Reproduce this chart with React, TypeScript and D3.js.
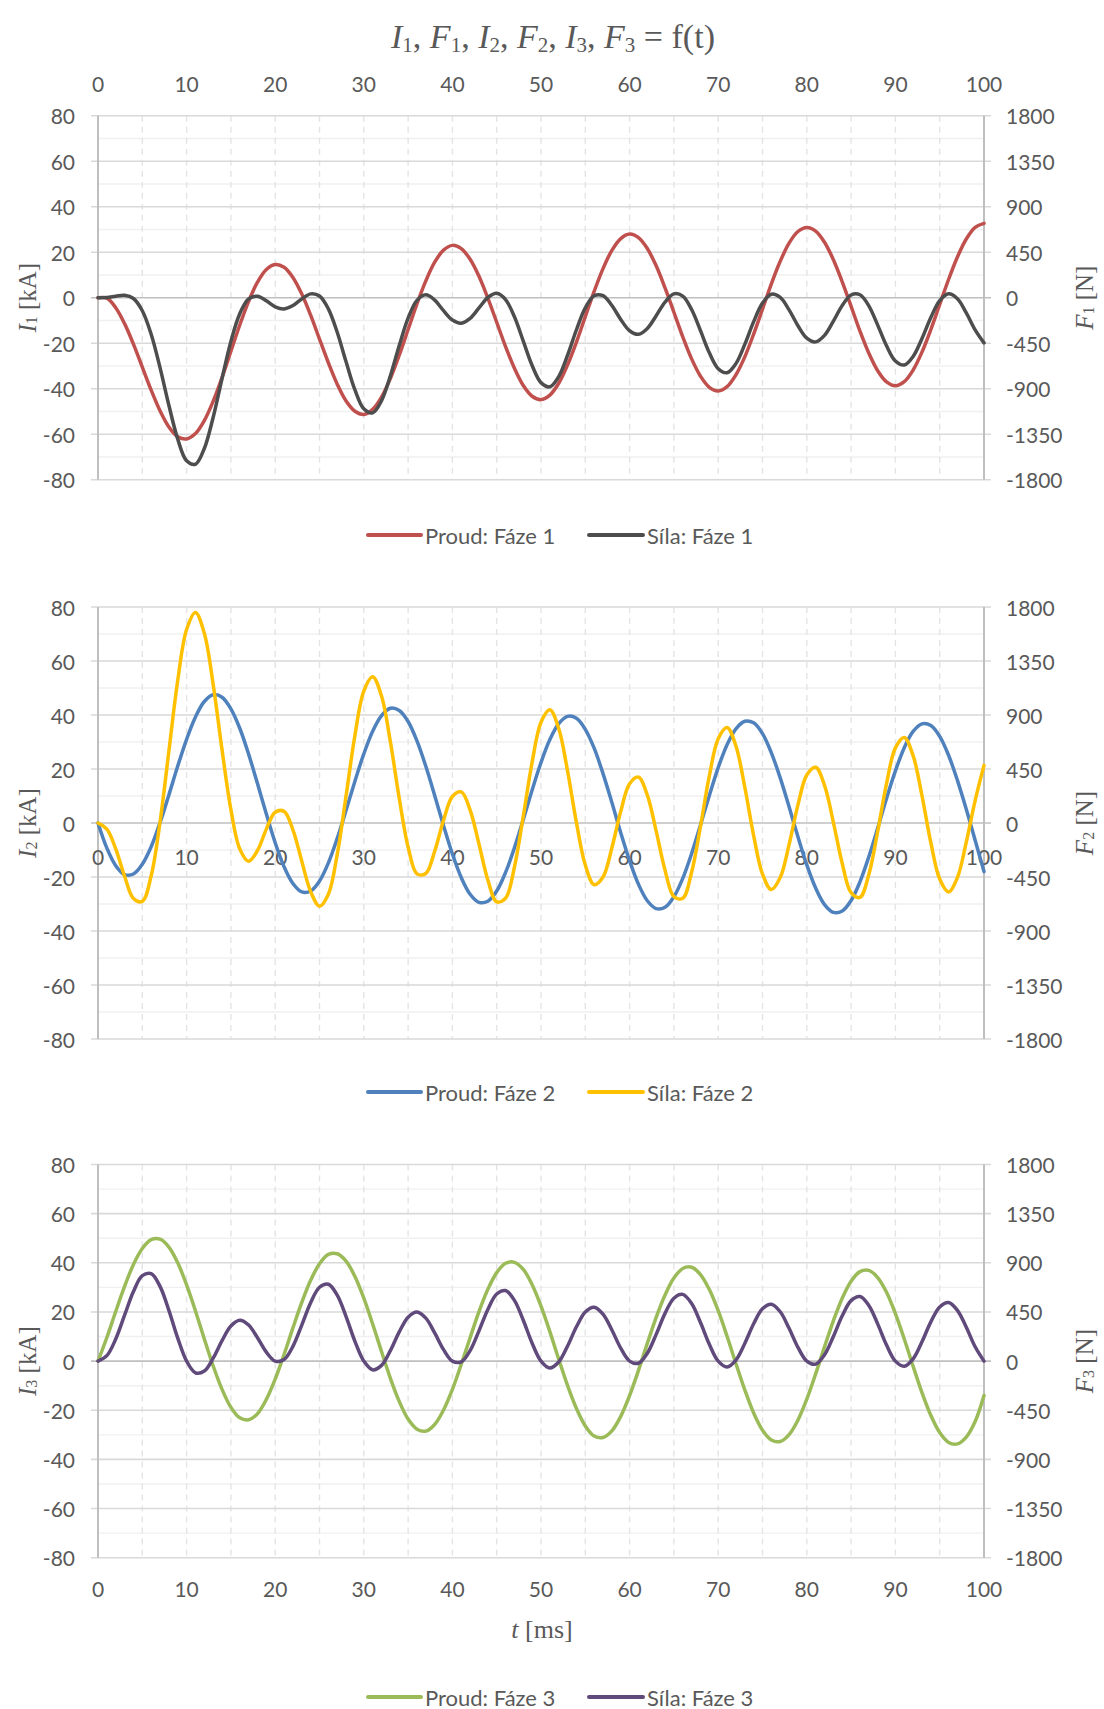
import React from "react";
import * as d3 from "d3";

// sample times [ms]
const timeMs = [
  0, 1, 2, 3, 4, 5, 6, 7, 8, 9, 10, 11, 12, 13, 14, 15, 16, 17, 18, 19, 20,
  21, 22, 23, 24, 25, 26, 27, 28, 29, 30, 31, 32, 33, 34, 35, 36, 37, 38, 39, 40,
  41, 42, 43, 44, 45, 46, 47, 48, 49, 50, 51, 52, 53, 54, 55, 56, 57, 58, 59, 60,
  61, 62, 63, 64, 65, 66, 67, 68, 69, 70, 71, 72, 73, 74, 75, 76, 77, 78, 79, 80,
  81, 82, 83, 84, 85, 86, 87, 88, 89, 90, 91, 92, 93, 94, 95, 96, 97, 98, 99, 100,
];

// currents [kA]
const proud1 = [
  0, -0.2, -4.4, -11.4, -20.4, -30.5, -40.6, -49.7, -56.8, -61.1, -62.1,
  -59.7, -54.0, -45.5, -35.1, -23.5, -12.0, -1.6, 6.8, 12.4, 14.6,
  13.4, 8.9, 1.6, -7.7, -18.2, -28.6, -38.0, -45.4, -49.9, -51.3,
  -49.1, -43.7, -35.5, -25.3, -14.0, -2.7, 7.4, 15.6, 20.9, 23.0,
  21.6, 16.9, 9.4, -0.2, -10.8, -21.5, -31.0, -38.6, -43.3, -44.8,
  -42.8, -37.6, -29.5, -19.5, -8.3, 2.8, 12.8, 20.8, 26.0, 28.0,
  26.4, 21.6, 14.0, 4.3, -6.4, -17.2, -26.9, -34.5, -39.4, -41.0,
  -39.1, -33.9, -26.0, -16.0, -5.0, 6.1, 16.0, 24.0, 29.1, 30.9,
  29.3, 24.4, 16.7, 7.0, -3.8, -14.7, -24.4, -32.1, -37.0, -38.7,
  -36.9, -31.8, -23.9, -14.0, -3.0, 8.0, 17.9, 25.8, 30.9, 32.7,
];
const proud2 = [
  0, -9.3, -15.8, -19.1, -18.9, -15.3, -8.8, 0.1, 10.4, 21.1, 31.0,
  39.3, 45.0, 47.5, 46.6, 42.3, 35.1, 25.5, 14.6, 3.3, -7.3,
  -16.2, -22.4, -25.5, -25.2, -21.5, -14.8, -5.7, 4.7, 15.5, 25.6,
  34.0, 39.8, 42.5, 41.7, 37.6, 30.4, 21.0, 10.2, -1.0, -11.5,
  -20.2, -26.4, -29.4, -29.0, -25.2, -18.3, -9.2, 1.3, 12.2, 22.4,
  30.9, 36.8, 39.5, 38.8, 34.7, 27.7, 18.3, 7.6, -3.6, -14.0,
  -22.7, -28.8, -31.7, -31.2, -27.3, -20.5, -11.3, -0.7, 10.2, 20.5,
  29.0, 34.9, 37.7, 37.1, 33.1, 26.0, 16.7, 6.0, -5.1, -15.5,
  -24.1, -30.2, -33.1, -32.6, -28.7, -21.8, -12.5, -1.9, 9.1, 19.3,
  27.9, 33.9, 36.7, 36.1, 32.1, 25.1, 15.8, 5.1, -6.4, -18.0,
];
const proud3 = [
  0, 9.6, 20.2, 30.4, 39.3, 45.8, 49.4, 49.6, 46.4, 40.0, 31.0,
  20.4, 9.0, -2.0, -11.5, -18.8, -23.1, -23.9, -21.4, -15.6, -7.3,
  2.7, 13.5, 23.9, 32.9, 39.6, 43.4, 43.7, 40.7, 34.4, 25.6,
  15.1, 3.9, -7.0, -16.4, -23.6, -27.7, -28.5, -25.8, -19.9, -11.5,
  -1.3, 9.5, 20.1, 29.2, 36.0, 39.8, 40.2, 37.3, 31.1, 22.4,
  12.0, 0.8, -10.0, -19.3, -26.4, -30.5, -31.1, -28.4, -22.5, -14.0,
  -3.8, 7.2, 17.8, 26.9, 33.8, 37.7, 38.2, 35.2, 29.1, 20.5,
  10.1, -1.0, -11.7, -21.1, -28.1, -32.1, -32.7, -29.9, -24.0, -15.5,
  -5.2, 5.8, 16.4, 25.6, 32.5, 36.4, 36.9, 34.0, 28.0, 19.3,
  9.0, -2.1, -12.8, -22.1, -29.1, -33.1, -33.7, -30.9, -24.6, -14.0,
];

// forces [N]
const sila1 = [
  0, 1, 14, 24, -8, -129, -361, -691, -1064, -1399, -1613,
  -1647, -1491, -1182, -799, -432, -158, -12, 15, -31, -90,
  -111, -78, -12, 38, 17, -110, -342, -634, -912, -1099,
  -1139, -1019, -773, -473, -202, -26, 28, -24, -128, -221,
  -252, -204, -101, 2, 43, -19, -189, -429, -671, -840,
  -881, -780, -569, -317, -100, 19, 20, -77, -215, -327,
  -362, -304, -178, -43, 38, 16, -117, -326, -545, -702,
  -742, -652, -462, -237, -53, 34, 3, -120, -277, -400,
  -437, -372, -232, -77, 27, 29, -81, -271, -476, -626,
  -666, -581, -403, -195, -29, 38, -11, -150, -318, -447,
];
const sila2 = [
  0, -51, -216, -444, -629, -653, -440, 6, 599, 1188, 1613,
  1755, 1581, 1155, 611, 112, -216, -318, -229, -51, 90,
  97, -57, -318, -572, -693, -593, -262, 226, 731, 1099,
  1219, 1058, 677, 206, -200, -424, -421, -235, 23, 221,
  259, 108, -176, -475, -657, -627, -367, 56, 507, 840,
  944, 788, 432, 3, -350, -514, -450, -207, 97, 327,
  382, 232, -67, -394, -614, -627, -410, -28, 392, 702,
  796, 642, 300, -105, -426, -555, -455, -180, 151, 400,
  464, 314, 6, -338, -581, -620, -429, -71, 329, 626,
  713, 561, 227, -164, -467, -575, -454, -160, 187, 480,
];
const sila3 = [
  0, 50, 202, 420, 637, 782, 801, 684, 465, 211, 0,
  -107, -91, 27, 187, 321, 374, 330, 214, 82, 0,
  14, 135, 330, 534, 676, 704, 604, 408, 181, 0,
  -80, -39, 96, 267, 402, 449, 393, 258, 105, 0,
  -7, 96, 277, 473, 614, 646, 556, 374, 164, 0,
  -63, -8, 138, 314, 450, 494, 430, 285, 118, 0,
  -20, 72, 245, 437, 576, 611, 527, 353, 154, 0,
  -53, 10, 162, 342, 479, 521, 452, 300, 126, 0,
  -28, 58, 226, 415, 554, 591, 510, 341, 147, 0,
  -47, 21, 177, 359, 496, 537, 465, 310, 131, 0,
];

const xTicks = [0, 10, 20, 30, 40, 50, 60, 70, 80, 90, 100];
const xMinor = [5, 10, 15, 20, 25, 30, 35, 40, 45, 50, 55, 60, 65, 70, 75, 80, 85, 90, 95];
const leftTicks = [-80, -60, -40, -20, 0, 20, 40, 60, 80];
const leftMinor = [-70, -50, -30, -10, 10, 30, 50, 70];
const rightTicks = [-1800, -1350, -900, -450, 0, 450, 900, 1350, 1800];

const phases = ["1", "2", "3"];
const proudColors = ["#C0504D", "#4F81BD", "#9BBB59"];
const silaColors = ["#4D4D4D", "#FFC000", "#604A7B"];

const panels = [
  { top: 115.7, bottom: 479.7, xLabels: "top", legendY: 535, proud: proud1, sila: sila1 },
  { top: 607, bottom: 1039, xLabels: "zero", legendY: 1092, proud: proud2, sila: sila2 },
  { top: 1164.5, bottom: 1557.7, xLabels: "bottom", legendY: 1697, proud: proud3, sila: sila3 },
];

const X0 = 98;
const X1 = 984;
const tickFont = "Lato, 'Open Sans', sans-serif";
const serifFont = "'Liberation Serif', 'DejaVu Serif', serif";
const textColor = "#595959";

const x = d3.scaleLinear().domain([0, 100]).range([X0, X1]);

const Panel = ({ p, i }) => {
  const yL = d3.scaleLinear().domain([-80, 80]).range([p.bottom, p.top]);
  const yR = d3.scaleLinear().domain([-1800, 1800]).range([p.bottom, p.top]);
  const curve = d3.curveCatmullRom.alpha(0.5);
  const lineI = d3
    .line()
    .x((d) => x(d[0]))
    .y((d) => yL(d[1]))
    .curve(curve);
  const lineF = d3
    .line()
    .x((d) => x(d[0]))
    .y((d) => yR(d[1]))
    .curve(curve);
  const proudPts = timeMs.map((t, k) => [t, p.proud[k]]);
  const silaPts = timeMs.map((t, k) => [t, p.sila[k]]);

  let labelY = p.bottom + 31;
  if (p.xLabels === "top") labelY = p.top - 32;
  if (p.xLabels === "zero") labelY = yL(0) + 33;

  const midY = (p.top + p.bottom) / 2;

  return (
    <g>
      {/* minor horizontal grid */}
      {leftMinor.map((v) => (
        <line key={"hm" + v} x1={X0} x2={X1} y1={yL(v)} y2={yL(v)} stroke="#f0f0f0" strokeWidth={1.4} />
      ))}
      {/* vertical dashed grid */}
      {xMinor.map((v) => (
        <line
          key={"vm" + v}
          x1={x(v)}
          x2={x(v)}
          y1={p.top}
          y2={p.bottom}
          stroke="#e4e4e4"
          strokeWidth={1.4}
          strokeDasharray="6 5"
        />
      ))}
      {/* major horizontal grid + ticks */}
      {leftTicks.map((v) => (
        <line
          key={"hM" + v}
          x1={X0 - 7}
          x2={X1 + 7}
          y1={yL(v)}
          y2={yL(v)}
          stroke={v === 0 ? "#bfbfbf" : "#d9d9d9"}
          strokeWidth={1.6}
        />
      ))}
      <line x1={X0} x2={X0} y1={p.top} y2={p.bottom} stroke="#bfbfbf" strokeWidth={2} />
      <line x1={X1} x2={X1} y1={p.top} y2={p.bottom} stroke="#bfbfbf" strokeWidth={2} />

      {/* tick labels */}
      <g fontFamily={tickFont} fontSize={21} fill={textColor}>
        {leftTicks.map((v) => (
          <text key={"lt" + v} x={75} y={yL(v)} textAnchor="end" dominantBaseline="central">
            {v}
          </text>
        ))}
        {rightTicks.map((v) => (
          <text key={"rt" + v} x={1006} y={yR(v)} textAnchor="start" dominantBaseline="central">
            {v}
          </text>
        ))}
        {xTicks.map((v) => (
          <text key={"xt" + v} x={x(v)} y={labelY} textAnchor="middle" dominantBaseline="central">
            {v}
          </text>
        ))}
      </g>

      {/* axis titles */}
      <text
        transform={`translate(27,${midY}) rotate(-90)`}
        textAnchor="middle"
        dominantBaseline="central"
        fontFamily={serifFont}
        fontSize={25}
        fill={textColor}
      >
        <tspan fontStyle="italic">I</tspan>
        <tspan fontSize={16} dy={4}>
          {phases[i]}
        </tspan>
        <tspan dy={-4}> [kA]</tspan>
      </text>
      <text
        transform={`translate(1084,${midY}) rotate(-90)`}
        textAnchor="middle"
        dominantBaseline="central"
        fontFamily={serifFont}
        fontSize={25}
        fill={textColor}
      >
        <tspan fontStyle="italic">F</tspan>
        <tspan fontSize={16} dy={4}>
          {phases[i]}
        </tspan>
        <tspan dy={-4}> [N]</tspan>
      </text>

      {/* series */}
      <path d={lineI(proudPts)} fill="none" stroke={proudColors[i]} strokeWidth={3.5} strokeLinecap="round" />
      <path d={lineF(silaPts)} fill="none" stroke={silaColors[i]} strokeWidth={3.5} strokeLinecap="round" />

      {/* legend */}
      <g fontFamily={tickFont} fontSize={22} fill={textColor}>
        <line x1={368} x2={421} y1={p.legendY} y2={p.legendY} stroke={proudColors[i]} strokeWidth={4} strokeLinecap="round" />
        <text x={425} y={p.legendY} dominantBaseline="central">
          {"Proud: Fáze " + phases[i]}
        </text>
        <line x1={589} x2={643} y1={p.legendY} y2={p.legendY} stroke={silaColors[i]} strokeWidth={4} strokeLinecap="round" />
        <text x={647} y={p.legendY} dominantBaseline="central">
          {"Síla: Fáze " + phases[i]}
        </text>
      </g>
    </g>
  );
};

const titleParts = [
  ["I", "1"],
  ["F", "1"],
  ["I", "2"],
  ["F", "2"],
  ["I", "3"],
  ["F", "3"],
];

export default function App() {
  return (
    <svg
      width={1104}
      height={1709}
      style={{ position: "absolute", left: 0, top: 0, background: "#fff" }}
    >
      <rect width={1104} height={1709} fill="#fff" />
      <text x={553} y={48} textAnchor="middle" fontFamily={serifFont} fontSize={34} fill={textColor}>
        {titleParts.map(([s, n], k) => (
          <React.Fragment key={k}>
            <tspan fontStyle="italic">{s}</tspan>
            <tspan fontSize={21} dy={4}>
              {n}
            </tspan>
            <tspan dy={-4}>{k < titleParts.length - 1 ? ", " : " = f(t)"}</tspan>
          </React.Fragment>
        ))}
      </text>
      {panels.map((p, i) => (
        <Panel key={i} p={p} i={i} />
      ))}
      <text x={542} y={1638} textAnchor="middle" fontFamily={serifFont} fontSize={26} fill={textColor}>
        <tspan fontStyle="italic">t</tspan>
        <tspan> [ms]</tspan>
      </text>
    </svg>
  );
}
